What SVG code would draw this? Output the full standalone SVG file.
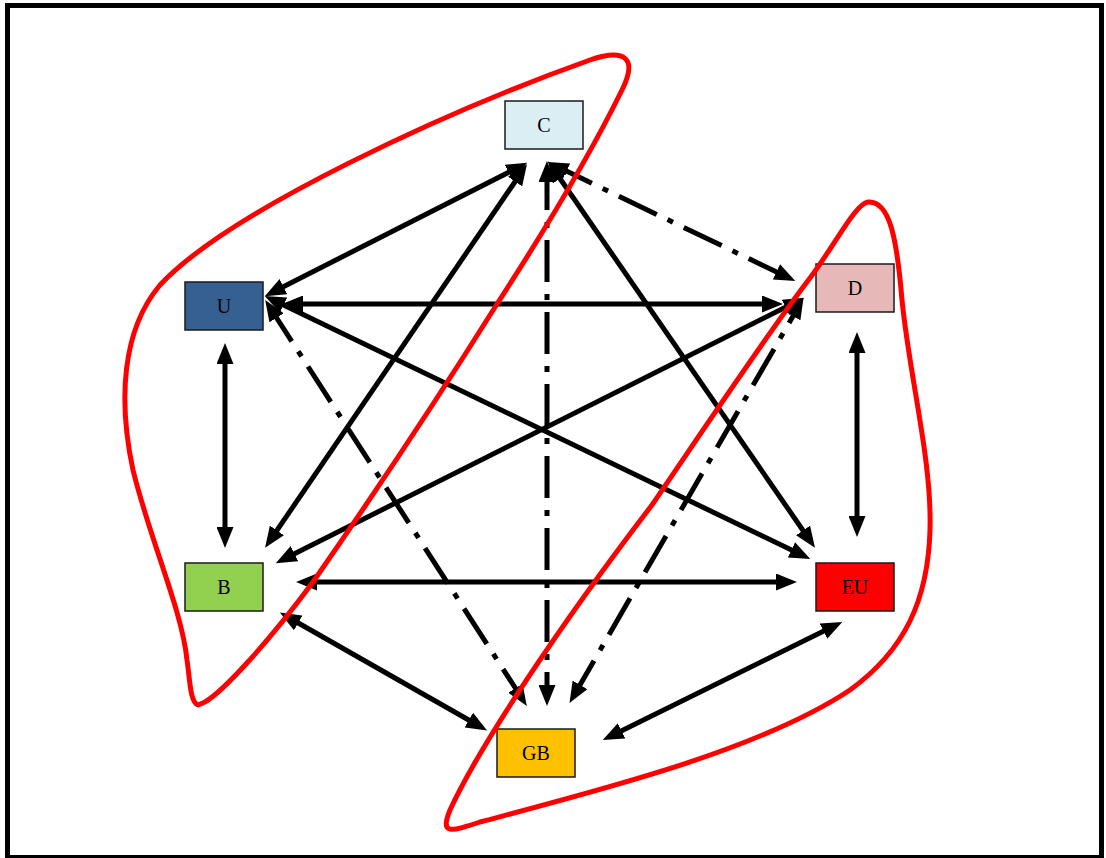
<svg xmlns="http://www.w3.org/2000/svg" width="1106" height="858" viewBox="0 0 1106 858">
<style>
.node rect{stroke:#1a1a1a;stroke-width:1.5}
.node text{font-family:"Liberation Serif","Times New Roman",serif;font-size:20px;fill:#000;text-anchor:middle;dominant-baseline:central}
.c line{stroke:#000;stroke-width:5;marker-start:url(#ah);marker-end:url(#ah)}
.c .dd{stroke-dasharray:42 12 6 12}
.blob{fill:none;stroke:#ff0000;stroke-width:5;stroke-linejoin:round}
</style>
<defs>
<marker id="ah" markerUnits="userSpaceOnUse" markerWidth="21" markerHeight="17" refX="14" refY="8.5" orient="auto-start-reverse">
<path d="M0,0 L21,8.5 L0,17 z" fill="#000"/>
</marker>
</defs>
<rect x="0" y="0" width="1106" height="858" fill="#fff"/>
<rect x="7.5" y="5.5" width="1094" height="852" fill="none" stroke="#000" stroke-width="5"/>
<g id="connectors" class="c">
<line x1="271" y1="293" x2="521" y2="166"/>
<line x1="269" y1="542" x2="523" y2="170"/>
<line x1="552" y1="167" x2="811" y2="542"/>
<line class="dd" x1="547" y1="168" x2="547" y2="699"/>
<line class="dd" x1="554" y1="165" x2="789" y2="278"/>
<line x1="289" y1="304" x2="776" y2="304"/>
<line x1="282" y1="560" x2="798" y2="301"/>
<line class="dd" x1="573" y1="697" x2="800" y2="304"/>
<line x1="271" y1="299" x2="804" y2="556"/>
<line class="dd" x1="269" y1="306" x2="523" y2="700"/>
<line x1="225" y1="350" x2="225" y2="541"/>
<line x1="303" y1="582" x2="790" y2="582"/>
<line x1="286" y1="616" x2="481" y2="727"/>
<line x1="857" y1="339" x2="857" y2="530"/>
<line x1="836" y1="625" x2="609" y2="737"/>
</g>
<g id="node-C" class="node"><rect x="505" y="101" width="78" height="48" fill="#DAEEF3"/><text x="544" y="125">C</text></g>
<g id="node-D" class="node"><rect x="816" y="264" width="78" height="48" fill="#E6B8B7"/><text x="855" y="288">D</text></g>
<g id="node-U" class="node"><rect x="185" y="282" width="78" height="48" fill="#366092"/><text x="224" y="306">U</text></g>
<g id="node-B" class="node"><rect x="185" y="563" width="78" height="48" fill="#92D050"/><text x="224" y="587">B</text></g>
<g id="node-EU" class="node"><rect x="816" y="563" width="78" height="48" fill="#FF0000"/><text x="855" y="587">EU</text></g>
<g id="node-GB" class="node"><rect x="497" y="729" width="78" height="48" fill="#FFC000"/><text x="536" y="753">GB</text></g>
<g id="groups">
<path class="blob" d="M198,705 C190,702 190,680 187,660 C182,610 150,540 133,470 C118,400 122,330 160,285 C230,210 450,110 590,60 C625,48 638,58 622,90 C590,155 545,230 497,304 C440,395 370,500 313,582 C270,640 225,690 205,702 Z"/>
<path class="blob" d="M868,202 C890,200 897,240 902,300 C910,380 932,460 930,530 C928,600 905,650 850,690 C760,750 600,790 480,822 C450,832 440,835 450,810 C480,745 560,625 652,505 C710,420 770,330 810,278 C835,245 855,204 868,202 Z"/>
</g>
</svg>
